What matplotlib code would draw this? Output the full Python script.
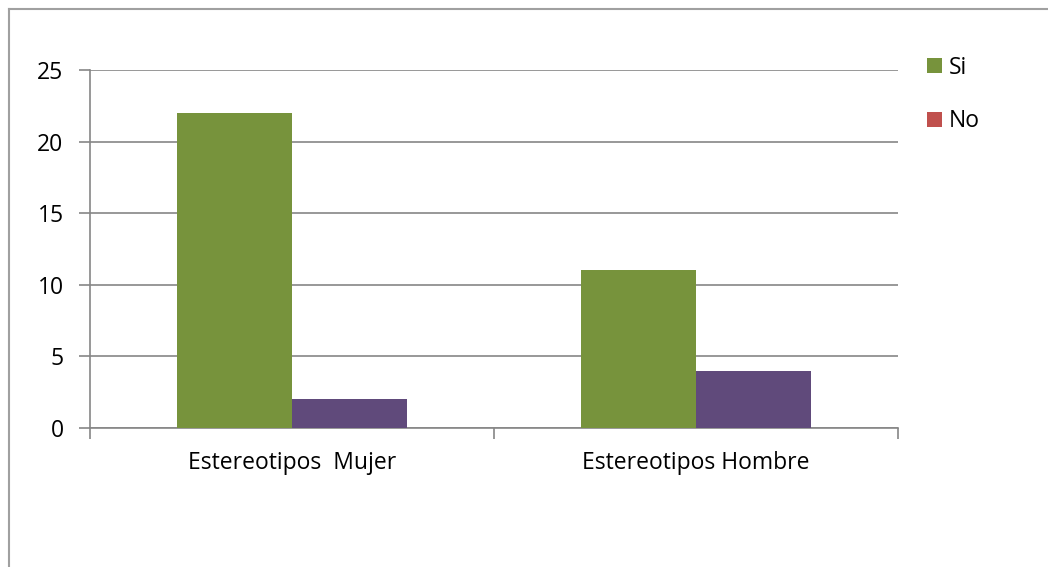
import matplotlib
matplotlib.use("Agg")
import matplotlib.pyplot as plt
from matplotlib.lines import Line2D
from matplotlib.patches import Patch
import numpy as np

categories = ["Estereotipos  Mujer", "Estereotipos Hombre"]
si_values = [22, 11]
no_values = [2, 4]
yticks = [0, 5, 10, 15, 20, 25]

plt.rcParams['font.family'] = ['Open Sans', 'DejaVu Sans']
FS = 16.5

fig = plt.figure(figsize=(10.48, 5.67), dpi=100)
ax = fig.add_axes([90/1048, 1-428/567, 808/1048, 358/567])

x = np.arange(len(categories))
w = 0.285
ax.bar(x - w/2, si_values, w, color="#77933C", zorder=3)
ax.bar(x + w/2, no_values, w, color="#604A7B", zorder=3)

ax.set_xlim(-0.5, len(categories) - 0.5)
ax.set_ylim(0, 25)
ax.set_yticks(yticks)
ax.set_yticklabels([str(t) for t in yticks], fontsize=FS)
ax.yaxis.grid(True, color="#868686", linewidth=1.2, zorder=0)
for s in ["top", "right"]:
    ax.spines[s].set_visible(False)
for s in ["left", "bottom"]:
    ax.spines[s].set_color("#868686")
    ax.spines[s].set_linewidth(1.2)
ax.tick_params(axis="y", length=8, width=1.2, color="#868686", pad=11)
ax.set_xticks([])
ax.set_xticks([-0.5, 0.5, 1.5], minor=True)
ax.tick_params(axis="x", which="minor", length=8, width=1.2, color="#868686")
for xi, c in zip(x, categories):
    ax.text(xi, -1.6, c, ha="center", va="top", fontsize=FS)

handles = [Patch(facecolor="#77933C"), Patch(facecolor="#C0504D")]
leg = fig.legend(handles, ["Si", "No"], loc="upper left",
                 bbox_to_anchor=(906/1048, 1-35/567), frameon=False,
                 fontsize=FS, handlelength=0.65, handleheight=0.65,
                 handletextpad=0.3, labelspacing=1.3)

fig.add_artist(Line2D([9/1048, 9/1048], [0, 1-9/567], color="#A0A0A0", linewidth=1.5))
fig.add_artist(Line2D([9/1048, 1], [1-9/567, 1-9/567], color="#A0A0A0", linewidth=1.5))

fig.savefig("out.png", dpi=100)
